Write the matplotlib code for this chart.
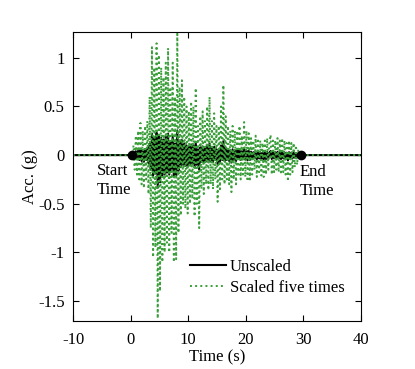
import numpy as np
import matplotlib
matplotlib.use("Agg")
import matplotlib.pyplot as plt

plt.rcParams["font.family"] = "Liberation Serif"
plt.rcParams["axes.unicode_minus"] = False

# registro (g), muestreo cada 0.2 s desde t0
t0 = 0.3
dt = 0.2
acc = [
    0.0, 0.02, -0.03, 0.04, -0.04,
    0.05, -0.05, 0.066, -0.06, 0.05,
    -0.068, 0.06, -0.05, 0.07, -0.08,
    0.12, -0.15, 0.222, -0.21, 0.18,
    -0.19, 0.23, -0.336, 0.206, -0.28,
    0.18, -0.22, 0.16, -0.2, 0.19,
    -0.18, 0.22, -0.2, 0.14, -0.16,
    0.19, -0.22, 0.12, -0.214, 0.254,
    -0.16, 0.14, -0.124, 0.154, -0.1,
    0.12, -0.11, 0.1, -0.12, 0.09,
    -0.1, 0.11, -0.09, 0.1, -0.126,
    0.138, -0.1, 0.06, -0.15, 0.08,
    -0.07, 0.09, -0.08, 0.07, -0.06,
    0.1, -0.072, 0.12, -0.06, 0.07,
    -0.07, 0.086, -0.05, 0.06, -0.096,
    0.06, -0.07, 0.1, -0.05, 0.144,
    -0.06, 0.08, -0.05, 0.06, -0.06,
    0.05, -0.076, 0.06, -0.05, 0.05,
    -0.06, 0.05, -0.04, 0.06, -0.05,
    0.04, -0.04, 0.068, -0.045, 0.05,
    -0.054, 0.045, -0.05, 0.035, -0.04,
    0.03, -0.03, 0.04, -0.045, 0.03,
    -0.035, 0.03, -0.042, 0.025, -0.045,
    0.03, -0.04, 0.035, -0.03, 0.025,
    0.042, -0.04, 0.03, -0.035, 0.03,
    -0.03, 0.035, -0.035, 0.03, -0.04,
    0.035, -0.035, 0.03, -0.04, 0.025,
    -0.054, 0.03, -0.04, 0.025, -0.035,
    0.025, -0.025, 0.02, -0.02, 0.012,
    -0.006, 0.0,
]
factor = 5
t_ini = 0.25
t_fin = 29.5
x_min, x_max = -10, 40

acc = np.array(acc)
t = t0 + dt * np.arange(len(acc))
# se agregan los tramos en cero antes y despues del registro
tt = np.concatenate([[x_min, t_ini], t, [x_max]])
aa = np.concatenate([[0, 0], acc, [0]])

fig = plt.figure(figsize=(4.15, 3.69), dpi=100)
ax = fig.add_axes([0.176, 0.13, 0.694, 0.783])

l1, = ax.plot(tt, aa, color="black", lw=1.5, label="Unscaled")
l2, = ax.plot(tt, aa * factor, color="#3a9e3a", lw=1.4, ls=":", label="Scaled five times")
ax.plot([t_ini, t_fin], [0, 0], "o", color="black", ms=6, ls="none", zorder=5)

ax.text(-5.9, -0.08, "Start\nTime", fontsize=12, va="top", ha="left", linespacing=1.25)
ax.text(29.4, -0.09, "End\nTime", fontsize=12, va="top", ha="left", linespacing=1.25)

ax.set_xlim(x_min, x_max)
ax.set_ylim(-1.706, 1.265)
ax.set_xticks([-10, 0, 10, 20, 30, 40])
ax.set_yticks([-1.5, -1, -0.5, 0, 0.5, 1])
ax.set_yticklabels(["-1.5", "-1", "-0.5", "0", "0.5", "1"])
ax.tick_params(direction="in", top=True, right=True, length=4, labelsize=12)
ax.tick_params(axis="x", pad=8)
ax.tick_params(axis="y", pad=6)
ax.set_xlabel("Time (s)", fontsize=12, labelpad=1)
ax.set_ylabel("Acc. (g)", fontsize=12, labelpad=0)

ax.legend(handles=[l1, l2], loc="lower right", bbox_to_anchor=(1.0, 0.03),
          frameon=False, fontsize=12,
          handlelength=2.2, handletextpad=0.2, borderaxespad=0.6, labelspacing=0.3)

fig.savefig("out.png", dpi=100)
